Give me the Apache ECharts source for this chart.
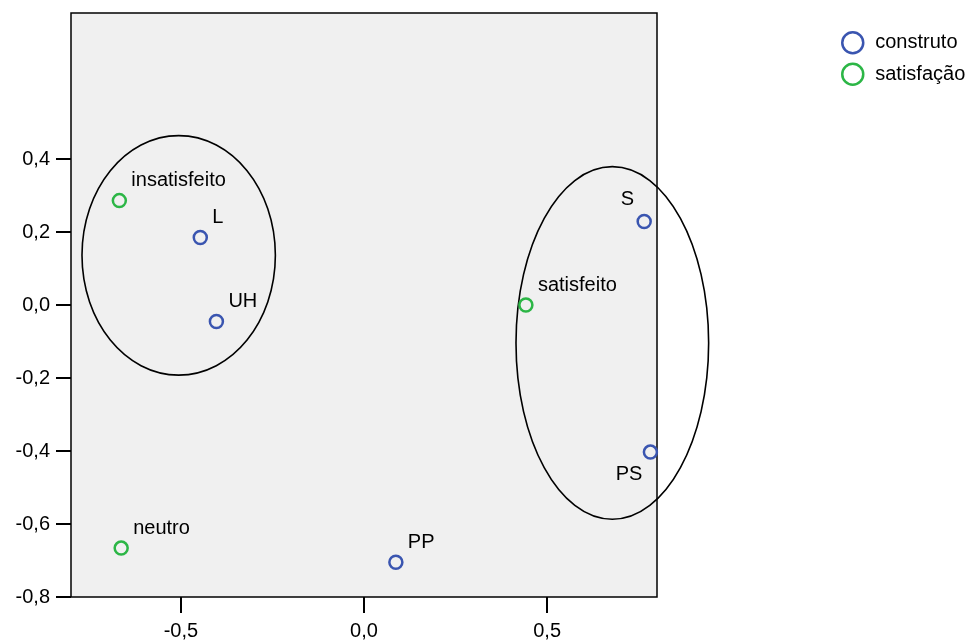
<!DOCTYPE html>
<html>
<head>
<meta charset="utf-8">
<script src="https://cdn.jsdelivr.net/npm/echarts@6/dist/echarts.min.js"></script>
<style>
  html, body { margin: 0; padding: 0; background: #fff; }
  #chart { width: 972px; height: 641px; }
</style>
</head>
<body>
<div id="chart"></div>
<script>
// pontos do grupo "construto"
var construto_nomes = ["L", "UH", "S", "PS", "PP"];
var construto_x = [-0.447, -0.403, 0.765, 0.782, 0.087];
var construto_y = [0.185, -0.045, 0.229, -0.403, -0.705];

// pontos do grupo "satisfação"
var satisf_nomes = ["insatisfeito", "satisfeito", "neutro"];
var satisf_x = [-0.668, 0.442, -0.663];
var satisf_y = [0.286, 0.0, -0.666];

// elipses: centro x, centro y, raio x, raio y (unidades dos eixos)
var elipse_cx = [-0.506, 0.678];
var elipse_cy = [0.136, -0.104];
var elipse_rx = [0.264, 0.263];
var elipse_ry = [0.328, 0.483];

var x_ticks = [-0.5, 0, 0.5];
var y_ticks = [-0.8, -0.6, -0.4, -0.2, 0, 0.2, 0.4];

var azul = "#3a55b0";
var verde = "#2cb646";

function virgula(v) {
    return v.toFixed(1).replace(".", ",");
}

// rótulo padrão: acima e à direita do ponto
var rotulo = {
    show: true,
    position: "inside",
    align: "left",
    verticalAlign: "middle",
    offset: [12, -20],
    formatter: "{b}",
    fontFamily: "Liberation Sans, Arial, sans-serif",
    fontSize: 20,
    color: "#000"
};

// alguns rótulos ficam em outro lado do ponto
var rotulo_especial = {
    "S": { align: "right", offset: [-10, -22] },
    "PS": { align: "right", offset: [-8, 22] }
};

function monta(nomes, xs, ys) {
    return nomes.map(function (n, i) {
        var d = { name: n, value: [xs[i], ys[i]] };
        if (rotulo_especial[n]) d.label = rotulo_especial[n];
        return d;
    });
}

var elipses = elipse_cx.map(function (c, i) {
    return [c, elipse_cy[i], elipse_rx[i], elipse_ry[i]];
});

var myChart = echarts.init(document.getElementById("chart"));

var option = {
    animation: false,
    textStyle: { fontFamily: "Liberation Sans, Arial, sans-serif" },
    grid: {
        left: 71, right: 315, top: 13, bottom: 43,
        show: true,
        backgroundColor: "#f0f0f0",
        borderColor: "#000",
        borderWidth: 1.5
    },
    legend: {
        orient: "vertical",
        left: 836, top: 26,
        itemWidth: 21, itemHeight: 21, itemGap: 8,
        icon: "circle",
        textStyle: { fontSize: 20, color: "#000", padding: [0, 0, 0, 7] },
        data: [
            { name: "construto", itemStyle: { color: "transparent", borderColor: azul, borderWidth: 2.5 } },
            { name: "satisfação", itemStyle: { color: "transparent", borderColor: verde, borderWidth: 2.5 } }
        ]
    },
    xAxis: {
        type: "value",
        min: -0.8, max: 0.8,
        splitLine: { show: false },
        axisLine: { show: false, onZero: false },
        axisTick: { show: true, length: 16, customValues: x_ticks, lineStyle: { color: "#000", width: 2 } },
        axisLabel: { customValues: x_ticks, fontSize: 20, color: "#000", margin: 24, formatter: virgula }
    },
    yAxis: {
        type: "value",
        min: -0.8, max: 0.8,
        splitLine: { show: false },
        axisLine: { show: false, onZero: false },
        axisTick: { show: true, length: 15, customValues: y_ticks, lineStyle: { color: "#000", width: 2 } },
        axisLabel: { customValues: y_ticks, fontSize: 20, color: "#000", margin: 21, formatter: virgula }
    },
    series: [
        {
            type: "custom",
            name: "elipses",
            clip: false,
            z: 1,
            data: elipses,
            renderItem: function (params, api) {
                var c = api.coord([api.value(0), api.value(1)]);
                var s = api.size([api.value(2), api.value(3)]);
                return {
                    type: "ellipse",
                    shape: { cx: c[0], cy: c[1], rx: s[0], ry: s[1] },
                    style: { fill: null, stroke: "#000", lineWidth: 1.6 }
                };
            }
        },
        {
            type: "scatter",
            name: "construto",
            z: 3,
            symbol: "circle",
            symbolSize: 13,
            itemStyle: { color: "transparent", borderColor: azul, borderWidth: 2.5, opacity: 1 },
            label: rotulo,
            data: monta(construto_nomes, construto_x, construto_y)
        },
        {
            type: "scatter",
            name: "satisfação",
            z: 3,
            symbol: "circle",
            symbolSize: 13,
            itemStyle: { color: "transparent", borderColor: verde, borderWidth: 2.5, opacity: 1 },
            label: rotulo,
            data: monta(satisf_nomes, satisf_x, satisf_y)
        }
    ]
};

myChart.setOption(option);
</script>
</body>
</html>
